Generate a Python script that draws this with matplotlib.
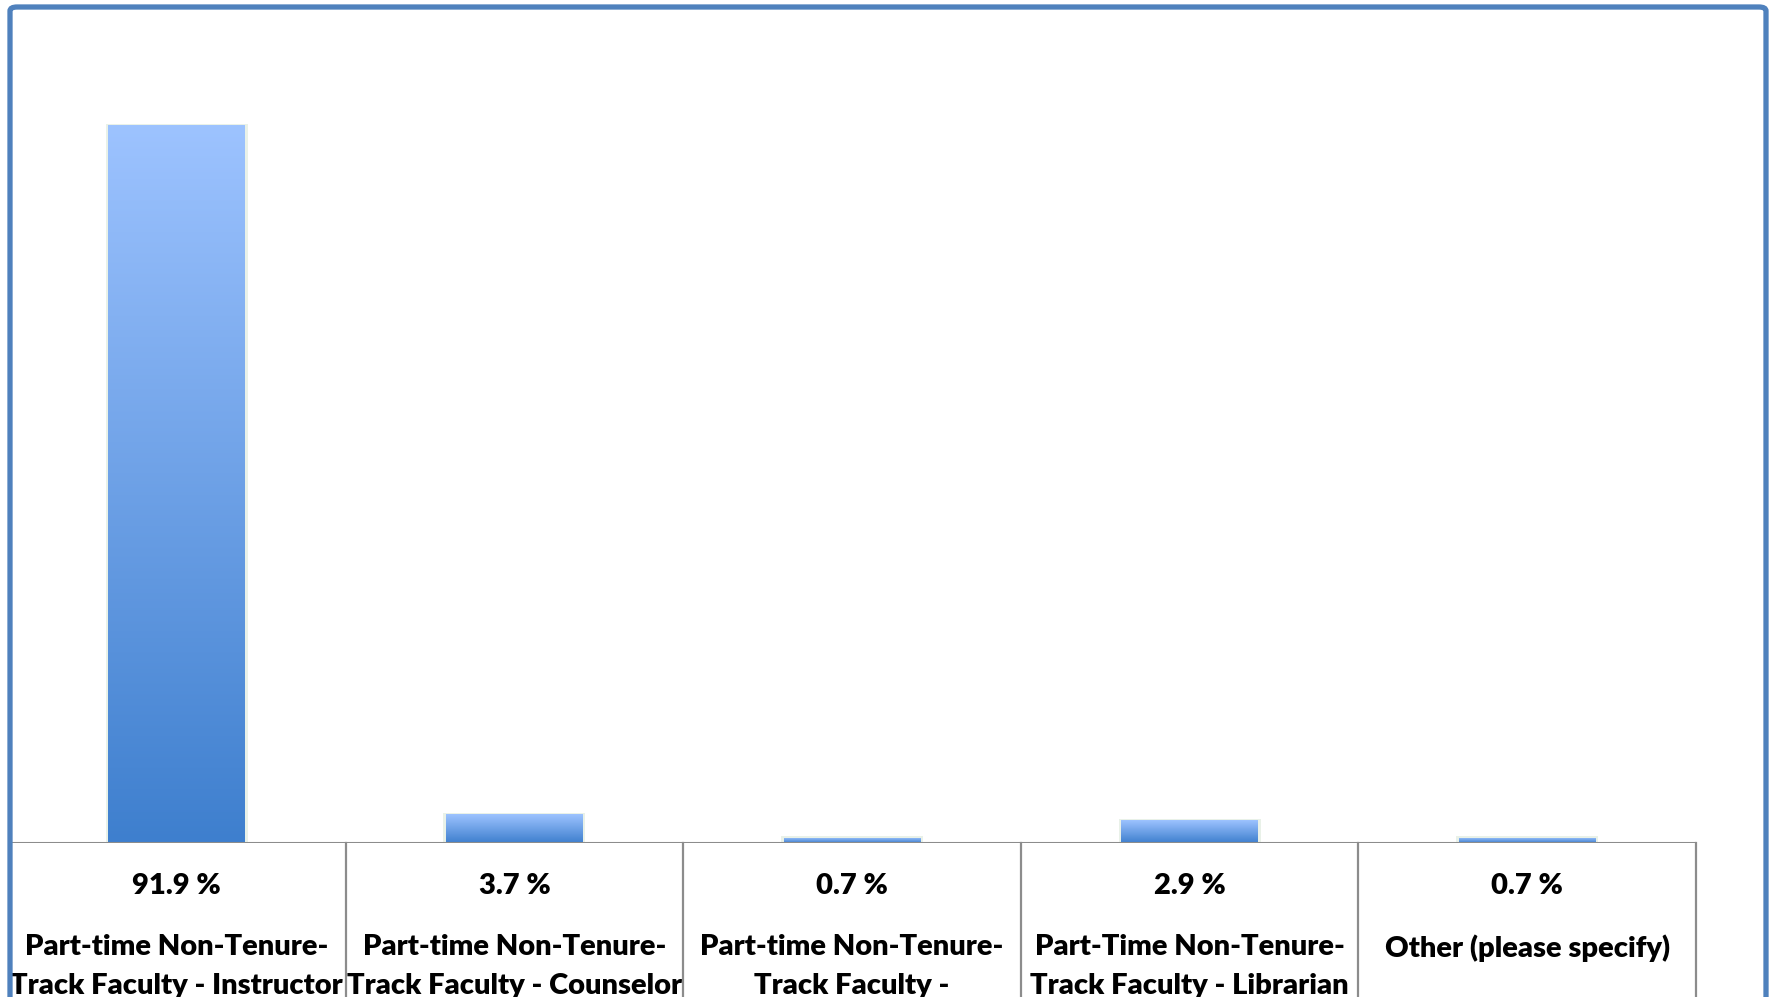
import numpy as np
import matplotlib.pyplot as plt
from matplotlib.patches import FancyBboxPatch

categories = ['Part-time Non-Tenure-\nTrack Faculty - Instructor',
              'Part-time Non-Tenure-\nTrack Faculty - Counselor',
              'Part-time Non-Tenure-\nTrack Faculty -',
              'Part-Time Non-Tenure-\nTrack Faculty - Librarian',
              'Other (please specify)']
values = [91.9, 3.7, 0.7, 2.9, 0.7]
value_labels = ['91.9 %', '3.7 %', '0.7 %', '2.9 %', '0.7 %']

W, H = 1771, 997
fig = plt.figure(figsize=(W / 100, H / 100), dpi=100)
fig.patch.set_facecolor('white')

# plot area (pixel positions converted to figure fractions)
left, right, base, top = 8, 1696, 843, 62
ax = fig.add_axes([left / W, (H - base) / H, (right - left) / W, (base - top) / H])
ax.axis('off')

x = np.arange(len(values))
bars = ax.bar(x, values, width=0.405, color='none', edgecolor='none', zorder=3)

# vertical gradient inside each bar
grad = np.linspace(0, 1, 256).reshape(-1, 1)
c_top = np.array([157, 195, 255]) / 255
c_bot = np.array([62, 127, 206]) / 255
img = (c_bot + (c_top - c_bot) * grad[..., None]).reshape(256, 1, 3)
for b in bars:
    x0, w, h = b.get_x(), b.get_width(), b.get_height()
    # soft shadow
    ax.bar(x0 + w / 2, h + 0.25, width=w * 1.04, bottom=-0.1, color='#e9f1e8', zorder=2)
    im = ax.imshow(img, extent=[x0, x0 + w, 0, h], origin='lower', aspect='auto', zorder=3)
    im.set_clip_path(b)
ax.set_xlim(-0.5, len(values) - 0.5)
ax.set_ylim(0, 100)

# baseline and category dividers
ax.axhline(0, color='#8c8c8c', lw=2.2, zorder=4)
for xd in np.arange(0.5, len(values), 1.0):
    ax.plot([xd, xd], [0, -0.3], transform=ax.get_xaxis_transform(),
            color='#8c8c8c', lw=1.6, clip_on=False, zorder=4)

font = dict(family=['Lato', 'DejaVu Sans'], weight='heavy', color='black')
tr = ax.get_xaxis_transform()
for i in range(len(values)):
    ax.text(x[i], -43 / 781, value_labels[i], transform=tr, ha='center', va='center',
            fontsize=21, **font)
    ax.text(x[i], -91 / 781, categories[i], transform=tr, ha='center', va='top',
            multialignment='center', fontsize=21, linespacing=1.6, **font)

# blue outer frame (runs off the bottom of the picture)
frame = FancyBboxPatch((10 / W, -0.2), (1766 - 10) / W, 1.2 - 7 / H,
                       boxstyle='round,pad=0,rounding_size=0.004',
                       transform=fig.transFigure, facecolor='none',
                       edgecolor='#4f81bd', lw=3.8, zorder=10)
fig.patches.append(frame)

fig.savefig('out.png', dpi=100)
